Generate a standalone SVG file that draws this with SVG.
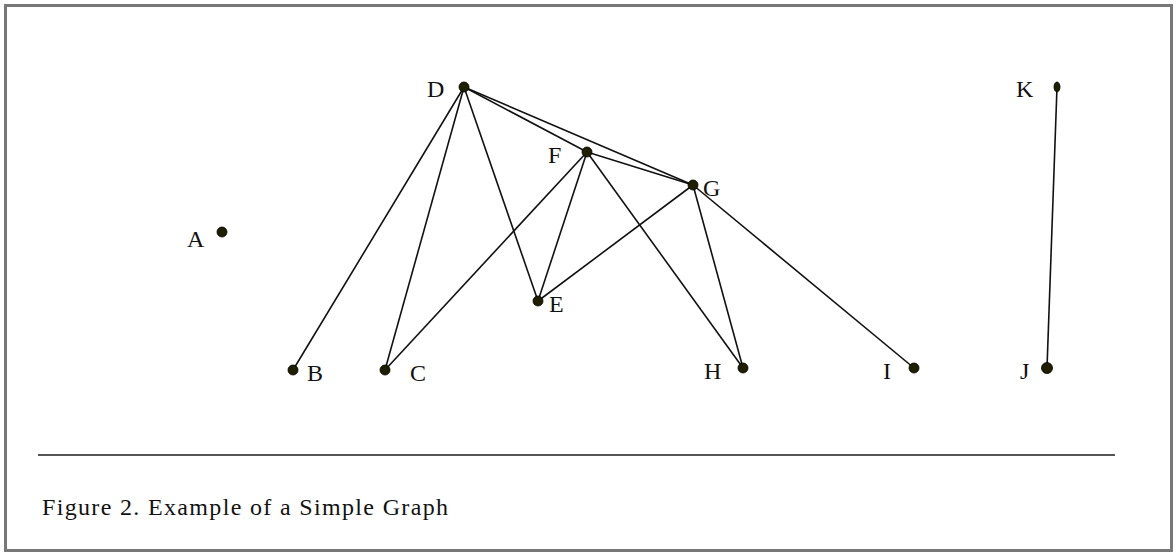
<svg xmlns="http://www.w3.org/2000/svg" width="1176" height="554" viewBox="0 0 1176 554">
<style>
.n{fill:#1f1f00;stroke:#000;stroke-width:0.8}
.l{font-family:"Liberation Serif",serif;font-size:24px;fill:#111}
.e line{stroke:#111;stroke-width:1.6}
</style>
<rect width="1176" height="554" fill="#fff"/>
<rect x="5.5" y="5.5" width="1166" height="545" fill="none" stroke="#777" stroke-width="3"/>
<g class="e" id="connectors">
<line x1="464" y1="87" x2="293" y2="370"/>
<line x1="464" y1="87" x2="385" y2="370"/>
<line x1="464" y1="87" x2="538" y2="301"/>
<line x1="464" y1="87" x2="587" y2="152"/>
<line x1="464" y1="87" x2="693" y2="185"/>
<line x1="587" y1="152" x2="693" y2="185"/>
<line x1="587" y1="152" x2="385" y2="370"/>
<line x1="587" y1="152" x2="538" y2="301"/>
<line x1="587" y1="152" x2="743" y2="368"/>
<line x1="693" y1="185" x2="538" y2="301"/>
<line x1="693" y1="185" x2="743" y2="368"/>
<line x1="693" y1="185" x2="914" y2="368"/>
<line x1="1057" y1="87" x2="1047" y2="368"/>
</g>
<g id="A"><circle class="n" cx="222" cy="232" r="5"/><text class="l" x="187" y="247">A</text></g>
<g id="B"><circle class="n" cx="293" cy="370" r="5"/><text class="l" x="307" y="381">B</text></g>
<g id="C"><circle class="n" cx="385" cy="370" r="5"/><text class="l" x="410" y="381">C</text></g>
<g id="D"><circle class="n" cx="464" cy="87" r="5"/><text class="l" x="427" y="97">D</text></g>
<g id="E"><circle class="n" cx="538" cy="301" r="5"/><text class="l" x="549" y="312">E</text></g>
<g id="F"><circle class="n" cx="587" cy="152" r="5"/><text class="l" x="548" y="163">F</text></g>
<g id="G"><circle class="n" cx="693" cy="185" r="5"/><text class="l" x="703" y="196">G</text></g>
<g id="H"><circle class="n" cx="743" cy="368" r="5"/><text class="l" x="704" y="379">H</text></g>
<g id="I"><circle class="n" cx="914" cy="368" r="5"/><text class="l" x="883" y="379">I</text></g>
<g id="J"><circle class="n" cx="1047" cy="368" r="5.5"/><text class="l" x="1020" y="379">J</text></g>
<g id="K"><ellipse class="n" cx="1057" cy="87" rx="3" ry="5"/><text class="l" x="1016" y="97">K</text></g>
<line x1="38" y1="455" x2="1115" y2="455" stroke="#555" stroke-width="2"/>
<text class="l" x="42" y="515" textLength="406" lengthAdjust="spacing">Figure 2. Example of a Simple Graph</text>
</svg>
